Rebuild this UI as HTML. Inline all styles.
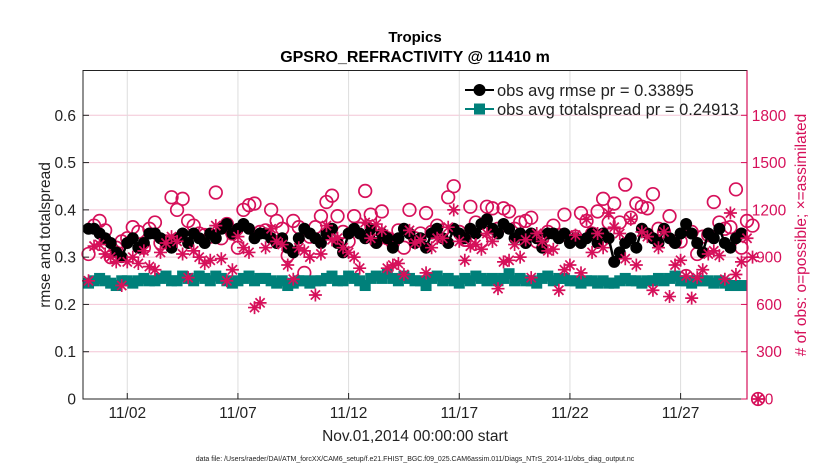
<!DOCTYPE html>
<html><head><meta charset="utf-8"><style>
body{margin:0;background:#fff;}
svg{display:block;font-family:"Liberation Sans",sans-serif;}
</style></head><body>
<svg id="chart" width="830" height="470">
<text x="415" y="42" text-anchor="middle" font-size="15" font-weight="bold">Tropics</text>
<text x="415" y="62" text-anchor="middle" font-size="16" font-weight="bold">GPSRO_REFRACTIVITY @ 11410 m</text>
<g id="grid"></g>
<g id="marks"></g>
<rect x="83" y="70.5" width="664" height="328.5" fill="none" stroke="#222" stroke-width="1"/>
<line x1="747" y1="70.5" x2="747" y2="399" stroke="#d6105a" stroke-width="1.2"/>
<g id="axes"></g>
<text transform="translate(50,235) rotate(-90)" text-anchor="middle" font-size="15.5" fill="#222">rmse and totalspread</text>
<text transform="translate(806,235) rotate(-90)" text-anchor="middle" font-size="15.5" fill="#d6105a"># of obs: o=possible; ×=assimilated</text>
<text x="415" y="441" text-anchor="middle" font-size="15.5" fill="#222">Nov.01,2014 00:00:00 start</text>
<text x="415" y="461" text-anchor="middle" font-size="7" fill="#222">data file: /Users/raeder/DAI/ATM_forcXX/CAM6_setup/f.e21.FHIST_BGC.f09_025.CAM6assim.011/Diags_NTrS_2014-11/obs_diag_output.nc</text>
<g>
<g>
<line x1="465" y1="90" x2="494" y2="90" stroke="#000" stroke-width="2"/>
<circle cx="479.5" cy="90" r="6" fill="#000"/>
<text x="497" y="96" font-size="16.5" fill="#222">obs avg rmse pr = 0.33895</text></g>
<g>
<line x1="465" y1="109" x2="494" y2="109" stroke="#00807a" stroke-width="2"/>
<rect x="474" y="103.5" width="11" height="11" fill="#00807a"/>
<text x="497" y="115" font-size="16.5" fill="#222">obs avg totalspread pr = 0.24913</text></g>
</g>
</svg>
<script>
const xTicks=[2,7,12,17,22,27];
const xTickLabels=["11/02","11/07","11/12","11/17","11/22","11/27"];
const yTicks=[0,0.1,0.2,0.3,0.4,0.5,0.6];
const yTickLabels=["0","0.1","0.2","0.3","0.4","0.5","0.6"];
const rTicks=[0,300,600,900,1200,1500,1800];
const rmse=[.36,.36,.35,.34,.33,.31,.30,.33,.34,.32,.33,.35,.35,.34,.33,.32,.34,.35,.33,.35,.34,.33,.35,.34,.36,.37,.35,.36,.37,.36,.34,.35,.35,.34,.33,.34,.32,.31,.34,.36,.35,.34,.33,.35,.36,.33,.31,.35,.36,.35,.34,.36,.33,.35,.34,.32,.34,.36,.35,.33,.34,.32,.35,.36,.34,.33,.36,.35,.34,.36,.35,.37,.38,.36,.35,.37,.36,.34,.35,.33,.35,.34,.32,.35,.35,.34,.35,.33,.34,.33,.34,.35,.33,.35,.34,.29,.31,.33,.34,.32,.36,.35,.34,.33,.36,.34,.33,.35,.37,.35,.33,.31,.35,.34,.36,.33,.32,.34,.35];
const spread=[.245,.25,.255,.25,.245,.24,.25,.25,.245,.25,.255,.25,.25,.255,.26,.25,.25,.26,.255,.25,.26,.255,.25,.26,.255,.25,.245,.25,.255,.26,.25,.255,.255,.25,.245,.25,.24,.245,.25,.25,.245,.25,.25,.255,.26,.25,.25,.26,.255,.25,.24,.255,.26,.255,.265,.255,.25,.26,.255,.25,.25,.24,.255,.26,.25,.255,.25,.245,.255,.25,.26,.255,.25,.255,.25,.255,.265,.25,.255,.25,.25,.245,.255,.26,.25,.255,.255,.25,.25,.245,.25,.25,.245,.25,.245,.245,.25,.255,.25,.25,.245,.25,.25,.255,.25,.255,.26,.25,.25,.245,.25,.25,.25,.245,.25,.245,.24,.24,.24];
const possible=[920,1100,1130,1070,900,960,1000,1020,1090,1060,960,1080,1120,990,1000,1280,1200,1270,1130,1100,1050,1040,1030,1310,1020,1110,1050,960,1200,1230,1240,1060,1070,1200,1130,1080,910,1130,1090,800,1030,1090,1160,1250,1290,1160,1060,1000,1160,1080,1320,1170,1000,1190,1020,990,1070,960,1200,1020,1050,1180,1060,1100,1070,1280,1350,1060,1010,1220,1120,1000,1220,1210,1080,1210,1190,1080,1120,1130,1150,1000,1020,1060,1100,1040,1170,1020,1030,1180,1130,1050,1190,1270,1120,1240,1120,1360,1150,1240,1220,1210,1300,1080,1060,1160,1000,1000,780,1060,920,1030,1040,1250,1120,1080,1090,1330,960,1130,1100,0];
const assimilated=[750,970,980,920,900,870,720,870,900,860,940,840,820,930,990,1030,1000,920,770,940,900,860,880,1100,890,750,820,1030,960,930,580,610,960,1080,1000,980,850,760,960,940,900,660,920,1100,1010,1020,960,930,900,830,1120,1020,1110,1070,830,850,860,790,1070,990,1010,800,960,1020,1020,1090,1200,1000,880,970,980,950,1050,1000,700,870,880,980,900,1010,770,1050,1000,940,950,690,820,850,1040,800,1140,930,1050,960,1180,1090,1050,890,1140,850,1060,1030,690,960,1060,650,850,880,780,640,770,820,920,940,910,760,1180,790,870,1020,900,0];

const NS="http://www.w3.org/2000/svg";
const L=83,R=747,T=70.5,B=399;
const X=t=>L+(t/30)*(R-L);
const Y=v=>B-v/0.6*(B-115.3);
const YR=c=>B-c/1800*(B-115.3);
const T0=i=>(i+1)*0.25;
function mk(tag,attrs,parent){const e=document.createElementNS(NS,tag);for(const k in attrs)e.setAttribute(k,attrs[k]);parent.appendChild(e);return e;}
const grid=document.getElementById('grid'),marks=document.getElementById('marks'),axes=document.getElementById('axes');
rTicks.forEach((c,i)=>{if(c>0){const g=mk('line',{x1:L,x2:R,y1:YR(c),y2:YR(c),stroke:'#f3c6d6','stroke-width':1},grid);

}
const tl=mk('line',{x1:R-6,x2:R,y1:YR(c),y2:YR(c),stroke:'#d6105a'},axes);


const tx=mk('text',{x:769,y:YR(c)+5.5,'font-size':15.5,fill:'#d6105a','text-anchor':'middle'},axes);tx.textContent=c;

});
yTicks.forEach((v,i)=>{const tl=mk('line',{x1:L,x2:L+6,y1:Y(v),y2:Y(v),stroke:'#222'},axes);


const tx=mk('text',{x:L-7,y:Y(v)+5.5,'font-size':15.5,fill:'#222','text-anchor':'end'},axes);tx.textContent=yTickLabels[i];

});
xTicks.forEach((t,i)=>{const g=mk('line',{x1:X(t),x2:X(t),y1:T,y2:B,stroke:'#ddd'},grid);


const tl=mk('line',{x1:X(t),x2:X(t),y1:B,y2:B-6,stroke:'#222'},axes);


const tx=mk('text',{x:X(t),y:418,'font-size':15.5,fill:'#222','text-anchor':'middle'},axes);tx.textContent=xTickLabels[i];

});
possible.forEach((c,i)=>{const e=mk('circle',{cx:X(T0(i)),cy:YR(c),r:6.3,fill:'none',stroke:'#d6105a','stroke-width':1.7},marks);

});
let sp=mk('polyline',{points:spread.map((v,i)=>X(T0(i))+','+Y(v)).join(' '),fill:'none',stroke:'#00807a','stroke-width':2.5},marks);


spread.forEach((v,i)=>{const e=mk('rect',{x:X(T0(i))-5.5,y:Y(v)-5.5,width:11,height:11,fill:'#00807a'},marks);

});
let rl=mk('polyline',{points:rmse.map((v,i)=>X(T0(i))+','+Y(v)).join(' '),fill:'none',stroke:'#000','stroke-width':2.5},marks);


rmse.forEach((v,i)=>{const e=mk('circle',{cx:X(T0(i)),cy:Y(v),r:6,fill:'#000'},marks);

});
assimilated.forEach((c,i)=>{const x=X(T0(i)),y=YR(c),s=6.5;
const d=`M${x-s},${y}H${x+s}M${x},${y-s}V${y+s}M${x-4.6},${y-4.6}L${x+4.6},${y+4.6}M${x-4.6},${y+4.6}L${x+4.6},${y-4.6}`;
const e=mk('path',{d:d,stroke:'#d6105a','stroke-width':1.7,fill:'none'},marks);

});
</script>
</body></html>
